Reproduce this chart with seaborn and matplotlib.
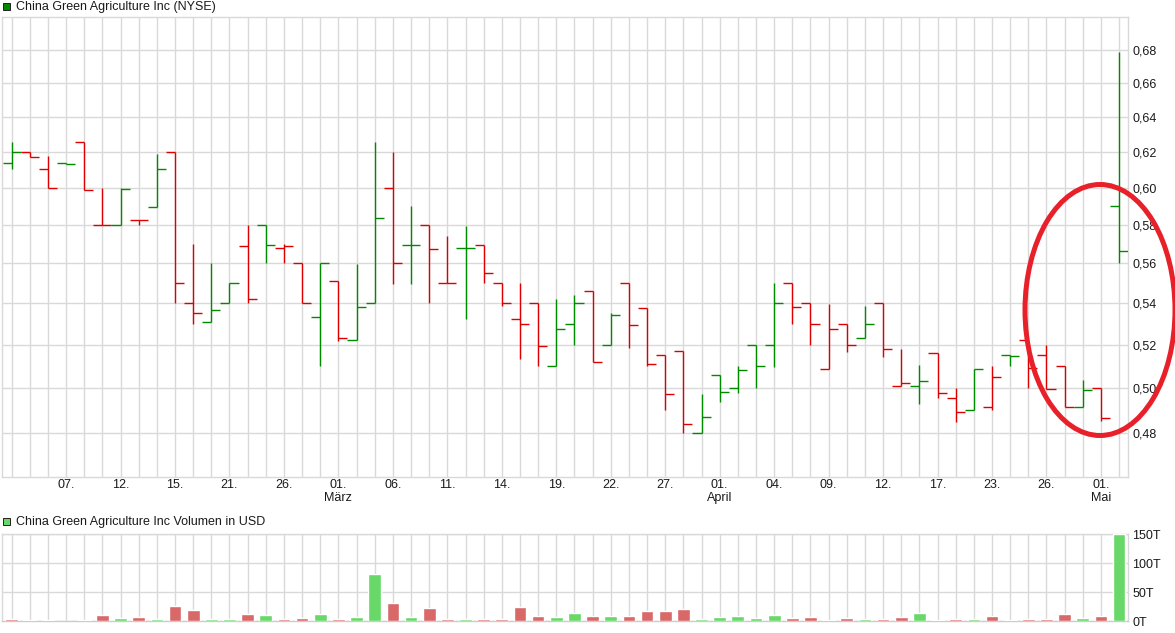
import numpy as np
import pandas as pd
import matplotlib
matplotlib.use("Agg")
import matplotlib.pyplot as plt
import seaborn as sns
from matplotlib.patches import Ellipse, Rectangle

# ---------------- data ----------------
opens = [0.6135, 0.620, 0.6101, 0.6135, 0.6255, 0.580, 0.580, 0.5827, 0.5897, 0.620,
         0.540, 0.531, 0.540, 0.5692, 0.580, 0.5682, 0.560, 0.5333, 0.551, 0.5224,
         0.540, 0.600, 0.5697, 0.580, 0.550, 0.5682, 0.5697, 0.550, 0.5324, 0.540,
         0.5103, 0.5301, 0.5464, 0.520, 0.550, 0.5376, 0.5153, 0.5173, 0.480, 0.5062,
         0.500, 0.520, 0.520, 0.550, 0.540, 0.5089, 0.5302, 0.5235, 0.540, 0.501,
         0.501, 0.5163, 0.4953, 0.4902, 0.4913, 0.5153, 0.5222, 0.5153, 0.5103, 0.4914,
         0.500, 0.590]
highs = [0.6255, 0.620, 0.6176, 0.6135, 0.6255, 0.600, 0.600, 0.5827, 0.6189, 0.620,
         0.5699, 0.560, 0.550, 0.580, 0.580, 0.5702, 0.560, 0.560, 0.551, 0.5597,
         0.6255, 0.6195, 0.5899, 0.580, 0.574, 0.5795, 0.5697, 0.550, 0.550, 0.540,
         0.5424, 0.544, 0.5464, 0.5353, 0.550, 0.5376, 0.5153, 0.5173, 0.4973, 0.5062,
         0.5103, 0.520, 0.550, 0.550, 0.540, 0.5397, 0.5302, 0.5387, 0.540, 0.5183,
         0.5108, 0.5163, 0.500, 0.5089, 0.5103, 0.5153, 0.5222, 0.520, 0.5103, 0.5039,
         0.500, 0.679]
lows = [0.610, 0.6168, 0.600, 0.6129, 0.5989, 0.580, 0.580, 0.580, 0.5897, 0.540,
        0.530, 0.531, 0.540, 0.540, 0.560, 0.560, 0.540, 0.5101, 0.5217, 0.5224,
        0.540, 0.5497, 0.5497, 0.540, 0.550, 0.5323, 0.550, 0.539, 0.5134, 0.5102,
        0.5103, 0.520, 0.512, 0.520, 0.5186, 0.5103, 0.4901, 0.480, 0.480, 0.4936,
        0.4976, 0.500, 0.5098, 0.5301, 0.520, 0.5089, 0.5169, 0.5235, 0.5144, 0.501,
        0.4927, 0.4956, 0.4847, 0.4902, 0.4902, 0.5101, 0.500, 0.4997, 0.4914, 0.4914,
        0.4853, 0.560]
closes = [0.620, 0.6168, 0.600, 0.6129, 0.5989, 0.580, 0.599, 0.5827, 0.6101, 0.550,
          0.5354, 0.537, 0.550, 0.5424, 0.5697, 0.5692, 0.540, 0.560, 0.5233, 0.5385,
          0.5835, 0.560, 0.5697, 0.5672, 0.550, 0.5682, 0.555, 0.540, 0.5301, 0.5197,
          0.5277, 0.540, 0.512, 0.5343, 0.5296, 0.5112, 0.4973, 0.484, 0.4871, 0.4982,
          0.5084, 0.5103, 0.5401, 0.5381, 0.5302, 0.5277, 0.520, 0.5302, 0.5183, 0.5024,
          0.5034, 0.4978, 0.4893, 0.5089, 0.505, 0.5148, 0.5092, 0.4997, 0.4914, 0.4993,
          0.4867, 0.5662]
volumes_t = [4, 2.3, 2.3, 0.6, 2.3, 11, 5.7, 7.5, 4, 26.4,
             19.5, 4, 4, 12.6, 11, 4, 5.7, 12.6, 4, 7.5,
             81.6, 31.6, 7.5, 23, 4, 4, 4, 4, 24.7, 9.2,
             7.5, 14.4, 9.2, 9.2, 9.2, 17.8, 17.8, 21.3, 4, 7.5,
             9.2, 5.7, 11, 5.7, 7.5, 2.3, 5.7, 4, 4, 7.5,
             14.4, 2.3, 4, 4, 9.2, 2.3, 4, 4, 12.6, 5.7,
             9.2, 150]
prior_close = 0.615
first_volume_up = False
date_labels = ["07.", "12.", "15.", "21.", "26.", "01.\nMärz", "06.", "11.", "14.", "19.",
               "22.", "27.", "01.\nApril", "04.", "09.", "12.", "17.", "23.", "26.", "01.\nMai"]
label_slots = [3, 6, 9, 12, 15, 18, 21, 24, 27, 30, 33, 36, 39, 42, 45, 48, 51, 54, 57, 60]
price_ticks = [0.48, 0.50, 0.52, 0.54, 0.56, 0.58, 0.60, 0.62, 0.64, 0.66, 0.68]
volume_ticks = [0, 50, 100, 150]
title_price = "China Green Agriculture Inc (NYSE)"
title_volume = "China Green Agriculture Inc Volumen in USD"

# ---------------- style ----------------
sns.set_theme(style="white")
plt.rcParams["font.family"] = ["Liberation Sans", "DejaVu Sans"]

GREEN = "#008a00"
RED = "#dd0000"
VGREEN = "#68d968"
VRED = "#d96868"
GRID = "#d9d9d9"
TXT = "#1a1a1a"

W, H = 1175, 633
fig = plt.figure(figsize=(W / 100, H / 100), dpi=100)


def px_axes(l, t, r, b):
    return fig.add_axes([l / W, 1 - b / H, (r - l) / W, (b - t) / H])


n = len(closes)
x = np.arange(n)
o = np.array(opens); h = np.array(highs); lo = np.array(lows); c = np.array(closes)
prev = np.concatenate([[prior_close], c[:-1]])
up = c >= prev
colors = [GREEN if u else RED for u in up]

# ---------------- price panel ----------------
ax = px_axes(2, 16.7, 1128, 476.7)
ax.set_yscale("log")
ax.vlines(x, lo, h, colors=colors, lw=1.0, zorder=3)
ax.hlines(o, x - 0.5, x, colors=colors, lw=1.0, zorder=3)
ax.hlines(c, x, x + 0.5, colors=colors, lw=1.0, zorder=3)
ax.set_xlim(-0.53, 61.49)
ax.set_ylim(0.4613, 0.7009)
ax.set_yticks(price_ticks)
ax.yaxis.set_minor_locator(matplotlib.ticker.NullLocator())
ax.set_yticklabels([f"{v:.2f}".replace(".", ",") for v in price_ticks])
ax.yaxis.tick_right()
ax.set_xticks(x)
xl = [""] * n
for s, lab in zip(label_slots, date_labels):
    xl[s] = lab
ax.set_xticklabels(xl)
ax.tick_params(axis="x", length=0, pad=2, labelsize=9, labelcolor=TXT)
ax.tick_params(axis="y", length=0, pad=3, labelsize=9, labelcolor=TXT)
for lbl in ax.get_xticklabels():
    lbl.set_multialignment("center")
    lbl.set_linespacing(1.1)
ax.grid(True, color=GRID, lw=1.0, zorder=0)
ax.set_axisbelow(True)
for sp in ax.spines.values():
    sp.set_color(GRID)
    sp.set_linewidth(1.0)

# ---------------- volume panel ----------------
axv = px_axes(2, 534.3, 1128, 621.3)
vol_up = [first_volume_up] + list(up[1:])
vdf = pd.DataFrame({"slot": x, "vol": volumes_t,
                    "dir": ["up" if u else "down" for u in vol_up]})
sns.barplot(data=vdf, x="slot", y="vol", hue="dir", palette={"up": VGREEN, "down": VRED},
            native_scale=True, dodge=False, width=0.7, errorbar=None, legend=False,
            saturation=1, ax=axv, zorder=3)
axv.set_xlim(-0.53, 61.49)
axv.set_ylim(0, 150)
axv.set_yticks(volume_ticks)
axv.set_yticklabels([f"{v}T" for v in volume_ticks])
axv.yaxis.tick_right()
axv.set_xticks(x)
axv.set_xticklabels([""] * n)
axv.set_xlabel("")
axv.set_ylabel("")
axv.tick_params(axis="x", length=0)
axv.tick_params(axis="y", length=0, pad=3, labelsize=9, labelcolor=TXT)
axv.grid(True, color=GRID, lw=1.0, zorder=0)
axv.set_axisbelow(True)
for sp in axv.spines.values():
    sp.set_color(GRID)
    sp.set_linewidth(1.0)
axv.spines["bottom"].set_color("#cccccc")

# ---------------- headers ----------------
fig.add_artist(Rectangle((3 / W, 1 - 10.2 / H), 6.6 / W, 6.8 / H, transform=fig.transFigure,
                         facecolor=GREEN, edgecolor="#222222", lw=0.7))
fig.text(15.5 / W, 1 - 6.8 / H, title_price, fontsize=9, color=TXT, va="center", ha="left")
fig.add_artist(Rectangle((3 / W, 1 - 525.2 / H), 6.6 / W, 6.8 / H, transform=fig.transFigure,
                         facecolor=VGREEN, edgecolor="#222222", lw=0.7))
fig.text(15.5 / W, 1 - 521.8 / H, title_volume, fontsize=9, color=TXT, va="center", ha="left")

# ---------------- annotation ellipse ----------------
fig.add_artist(Ellipse((1100 / W, 1 - 310 / H), 150 / W, 251 / H, transform=fig.transFigure,
                       fill=False, edgecolor="#e8202a", lw=3.6, zorder=10))

fig.savefig("out.png", dpi=100)
